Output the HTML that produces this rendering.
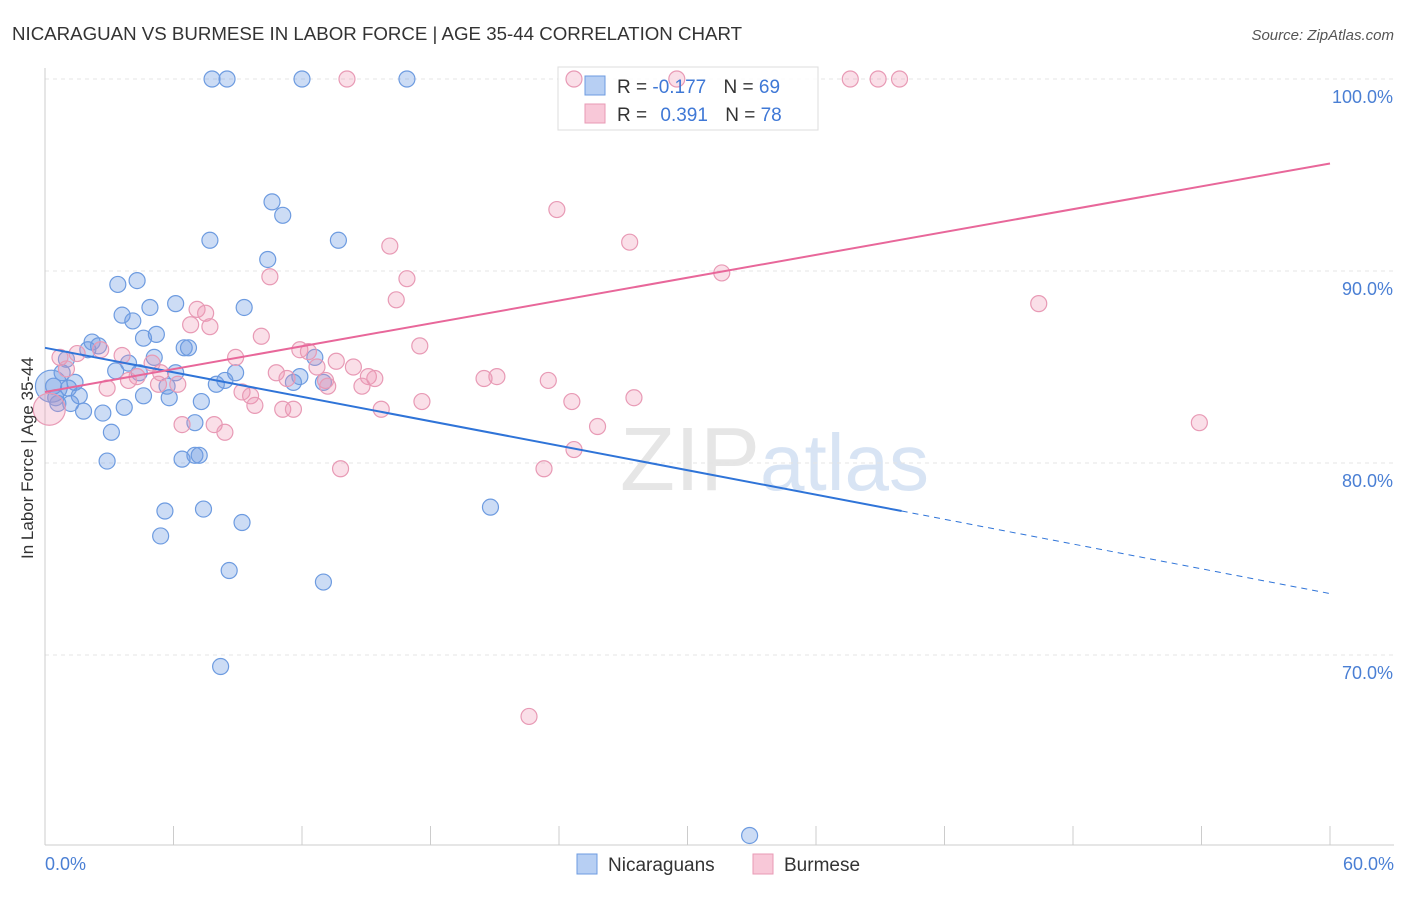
<!DOCTYPE html>
<html><head><meta charset="utf-8"><style>
body{margin:0;background:#fff;font-family:"Liberation Sans",sans-serif}
svg text{font-family:"Liberation Sans",sans-serif}
</style></head><body>
<svg id="c" width="1406" height="892">
<text x="12" y="40" font-size="18.7" fill="#333">NICARAGUAN VS BURMESE IN LABOR FORCE | AGE 35-44 CORRELATION CHART</text>
<text x="1394" y="40" font-size="15" fill="#555" font-style="italic" text-anchor="end">Source: ZipAtlas.com</text>
<text x="620" y="490" font-size="90" fill="#e6e6e6" font-family="Liberation Serif">ZIP<tspan fill="#d8e4f4" font-family="Liberation Sans" font-size="80">atlas</tspan></text>
<g id="grid"></g>
<g>
<rect x="558" y="67" width="260" height="63" fill="#fff" fill-opacity="0.85" stroke="#ddd"/>
</g>
<g id="pts"></g><g id="lines"></g>
<text transform="translate(33,458) rotate(-90)" font-size="17" fill="#333" text-anchor="middle">In Labor Force | Age 35-44</text>
<text x="45" y="870" font-size="18" fill="#4a7fd4">0.0%</text>
<text x="1394" y="870" font-size="18" fill="#4a7fd4" text-anchor="end">60.0%</text>
<g>
<rect x="585" y="76" width="20" height="19" fill="#b7cff3" stroke="#6d9be0"/>
<rect x="585" y="104" width="20" height="19" fill="#f8c8d8" stroke="#e89ab5"/>
<text x="617" y="93" font-size="19" fill="#333">R = <tspan fill="#3f78d6">-0.177</tspan>  <tspan dx="12">N = </tspan><tspan fill="#3f78d6">69</tspan></text>
<text x="617" y="121" font-size="19" fill="#333">R = <tspan fill="#3f78d6" dx="8">0.391</tspan>  <tspan dx="12">N = </tspan><tspan fill="#3f78d6">78</tspan></text>
</g>
<g>
<rect x="577" y="854" width="20" height="20" fill="#b7cff3" stroke="#6d9be0"/>
<text x="608" y="871" font-size="19" fill="#333">Nicaraguans</text>
<rect x="753" y="854" width="20" height="20" fill="#f8c8d8" stroke="#e89ab5"/>
<text x="784" y="871" font-size="19" fill="#333">Burmese</text>
</g>
</svg>
<script>
const yTicks=[100,90,80,70];
const xTicks=[0,6,12,18,24,30,36,42,48,54,60];
const blueX=[7.8,8.5,12.0,16.9,10.6,11.1,7.7,13.7,10.4,3.4,4.3,4.9,6.1,9.3,3.6,4.1,5.2,4.6,2.2,2.5,2.0,6.5,6.7,5.1,1.0,3.9,12.6,3.3,4.4,6.1,8.9,11.9,0.8,1.4,8.4,8.0,11.6,13.0,5.7,1.1,0.4,0.5,1.6,4.6,5.8,7.3,0.6,1.2,3.7,1.8,2.7,7.0,3.1,2.9,6.4,7.0,7.2,20.8,5.6,7.4,9.2,5.4,8.6,13.0,8.2,32.9,0.3];
const blueY=[100,100,100,100,93.6,92.9,91.6,91.6,90.6,89.3,89.5,88.1,88.3,88.1,87.7,87.4,86.7,86.5,86.3,86.1,85.9,86.0,86.0,85.5,85.4,85.2,85.5,84.8,84.7,84.7,84.7,84.5,84.7,84.2,84.3,84.1,84.2,84.2,84.0,83.9,84.0,83.4,83.5,83.5,83.4,83.2,83.1,83.1,82.9,82.7,82.6,82.1,81.6,80.1,80.2,80.4,80.4,77.7,77.5,77.6,76.9,76.2,74.4,73.8,69.4,60.6,84.0];
const pinkX=[24.7,14.1,29.5,37.6,38.9,39.9,23.9,27.3,16.1,31.6,16.9,10.5,16.4,46.4,7.1,7.5,6.8,7.7,10.1,17.5,11.9,12.3,2.6,1.5,0.7,3.6,8.9,13.6,14.4,5.0,12.7,1.0,10.8,5.4,4.3,21.1,20.5,15.1,15.4,11.3,3.9,13.1,23.5,5.3,6.2,13.2,2.9,14.8,9.2,9.6,27.5,24.6,17.6,9.8,11.1,11.6,15.7,6.4,7.9,8.4,25.8,53.9,24.7,13.8,23.3,22.6,0.2];
const pinkY=[100,100,100,100,100,100,93.2,91.5,91.3,89.9,89.6,89.7,88.5,88.3,88.0,87.8,87.2,87.1,86.6,86.1,85.9,85.8,85.9,85.7,85.5,85.6,85.5,85.3,85.0,85.2,85.0,84.9,84.7,84.7,84.5,84.5,84.4,84.5,84.4,84.4,84.3,84.3,84.3,84.1,84.1,84.0,83.9,84.0,83.7,83.5,83.4,83.2,83.2,83.0,82.8,82.8,82.8,82.0,82.0,81.6,81.9,82.1,80.7,79.7,79.7,66.8,82.8];
const blueTrend=[86.0,77.5,73.2]; // at x=0, 40, 60
const pinkTrend=[83.7,95.6]; // at x=0, 60
const X=v=>45+v/60*1285, Y=v=>79+(100-v)*19.2;
const NS="http://www.w3.org/2000/svg";
function mk(t,a,p){const e=document.createElementNS(NS,t);for(const k in a)e.setAttribute(k,a[k]);p.appendChild(e);return e;}
const g=document.getElementById('grid');
yTicks.forEach(t=>{
 const l=mk('line',{x1:45,x2:1394,y1:Y(t),y2:Y(t),stroke:'#e4e4e4','stroke-dasharray':'4,4'},g);
 
 
 const tx=mk('text',{x:1393,y:Y(t)+24,'font-size':18,fill:'#4a7fd4','text-anchor':'end'},g);
 tx.textContent=t.toFixed(1)+'%';
 
 
});
mk('line',{x1:45,x2:45,y1:68,y2:845,stroke:'#ccc'},g);
mk('line',{x1:45,x2:1394,y1:845,y2:845,stroke:'#ccc'},g);
xTicks.forEach(t=>{
 const l=mk('line',{x1:X(t),x2:X(t),y1:826,y2:845,stroke:'#ccc'},g);
 
 
});
const p=document.getElementById('pts');
function dots(xs,ys,fill,stroke,name){xs.forEach((x,i)=>{
 const big=(i===xs.length-1);
 const c=mk('circle',{cx:X(x),cy:Y(ys[i]),r:big?16:8,fill:fill,stroke:stroke,'stroke-width':1.2},p);
 
 
});}
dots(blueX,blueY,'rgba(110,155,225,0.35)','#6d9be0','nicaraguan-point');
dots(pinkX,pinkY,'rgba(240,150,180,0.3)','#e89ab5','burmese-point');
const L=document.getElementById('lines');
const b1=mk('line',{x1:X(0),y1:Y(blueTrend[0]),x2:X(40),y2:Y(blueTrend[1]),stroke:'#2f74d8','stroke-width':2},L);


const b2=mk('line',{x1:X(40),y1:Y(blueTrend[1]),x2:X(60),y2:Y(blueTrend[2]),stroke:'#2f74d8','stroke-width':1,'stroke-dasharray':'6,5'},L);


const p1=mk('line',{x1:X(0),y1:Y(pinkTrend[0]),x2:X(60),y2:Y(pinkTrend[1]),stroke:'#e8679a','stroke-width':2},L);


</script>
</body></html>
